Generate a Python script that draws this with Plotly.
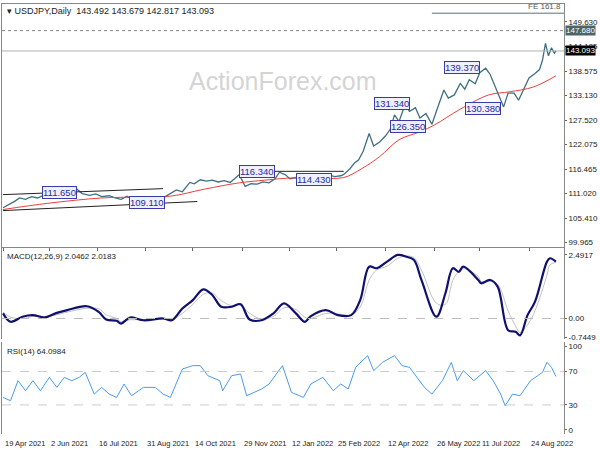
import plotly.graph_objects as go

# ---------------- data ----------------
price_bar = [0,4,8,11,15,19,23,27,31,35,38,42,46,49,53,58,62,66,71,75,79,83,87,91,96,100,104,108,112,116,120,125,128,132,136,140,144,148,152,156,158,160,162,166,170,174,178,182,185,189,192,196,200,205,210,214,218,222,226,228,232,235,238,241,245,248,252,256,259,262,265,269,272,276,279,283,287,291,295,298,302,306,309,312,316,319,323,326,329,332,335,338,342,345,349,352,356,359,361,363,365,367,369,370]
price_val = [107.8,108.5,109.3,110.0,109.7,110.3,110.0,110.6,111.5,111.3,111.7,111.9,111.5,112.1,111.0,110.6,110.9,110.3,110.5,110.0,109.7,110.4,109.6,110.0,109.3,109.8,109.5,110.2,111.0,111.8,111.4,113.5,113.2,114.1,113.8,114.0,113.6,113.9,113.5,114.6,115.2,114.0,112.6,113.2,113.1,113.6,113.4,114.3,115.8,115.2,114.3,114.6,113.8,114.4,114.9,114.4,115.2,114.8,115.0,115.3,116.5,117.8,118.6,120.5,124.5,121.7,122.6,124.0,125.4,128.7,127.2,131.0,129.5,130.3,128.0,129.0,126.6,130.5,134.3,132.5,133.2,135.8,134.5,136.6,135.7,138.2,139.2,137.8,135.5,133.0,130.5,133.6,133.6,132.0,135.0,137.0,138.0,138.9,141.0,144.8,142.0,143.8,142.6,143.1]

ma_bar = [0,30,66,90,112,135,158,175,192,210,228,240,252,265,279,289,305,325,339,355,370]
ma_val = [107.4,108.8,110.0,110.2,110.4,112.0,113.4,114.0,114.5,114.5,114.6,116.6,119.3,123.1,124.9,126.5,129.8,133.2,133.9,135.0,137.5]

macd_bar = [0,5,13,20,28,36,43,56,64,69,76,79,85,94,107,113,120,127,134,140,146,153,159,165,173,181,188,196,202,206,216,224,233,239,245,250,257,264,270,275,280,290,296,301,305,308,318,320,326,331,338,343,346,351,356,364,366,370]
macd_val = [0.20,-0.13,0.07,0.13,0.04,0.22,0.33,0.48,0.26,-0.04,-0.09,-0.20,0.04,-0.07,0.00,-0.07,0.39,0.72,1.14,0.92,0.46,0.46,0.56,-0.04,-0.07,0.20,0.59,0.20,-0.13,0.09,0.33,0.13,0.13,0.72,2.03,1.97,2.23,2.49,2.42,2.29,1.51,0.07,0.98,1.97,1.83,2.03,1.51,1.38,1.51,1.25,-0.46,-0.52,-0.66,0.13,0.66,2.23,2.36,2.23]
signal_val = [0.25,0.05,0.00,0.08,0.07,0.15,0.25,0.40,0.38,0.15,0.00,-0.12,-0.05,-0.05,-0.02,-0.04,0.20,0.55,0.95,1.00,0.70,0.50,0.52,0.20,-0.02,0.08,0.42,0.35,0.05,0.00,0.20,0.18,0.14,0.45,1.50,1.90,2.05,2.35,2.45,2.38,1.90,0.60,0.55,1.50,1.85,1.95,1.65,1.45,1.45,1.35,0.30,-0.30,-0.55,-0.25,0.30,1.70,2.10,2.20]

rsi_bar = [0,5,10,15,20,25,31,36,41,46,51,55,61,66,71,76,81,86,94,102,107,112,120,127,132,137,145,147,153,159,163,173,178,187,193,201,206,214,221,226,231,236,244,248,254,262,267,272,277,282,287,294,300,304,308,315,323,328,333,336,341,346,353,361,364,367,370]
rsi_val = [39,35,59,47,59,47,63,51,63,59,63,69,43,51,43,39,55,41,51,51,43,39,73,77,77,65,59,47,65,67,41,49,55,77,45,39,55,63,47,55,49,75,89,71,81,89,77,75,63,51,43,59,81,59,71,59,71,59,43,29,43,41,59,69,81,75,64]

date_bar = [0,31,63,95,127,160,192,223,256,289,319,352]
date_text = ["19 Apr 2021","2 Jun 2021","16 Jul 2021","31 Aug 2021","14 Oct 2021","29 Nov 2021",
             "12 Jan 2022","25 Feb 2022","12 Apr 2022","26 May 2022","11 Jul 2022","24 Aug 2022"]
price_ticks = [149.630,144.185,138.575,133.130,127.520,122.075,116.465,111.020,105.410,99.965]

lbl_text = ["111.650","109.110","116.340","114.430","131.340","126.350","139.370","130.380"]
lbl_bar = [38,96,170,208,260,271,307,321]
lbl_price = [111.2,109.0,115.9,114.1,131.2,126.0,139.3,130.1]

# ---------------- figure ----------------
F = "Liberation Sans"
fig = go.Figure()
fig.add_trace(go.Scatter(x=price_bar, y=price_val, mode="lines", line=dict(color="#3f7082", width=1.3), yaxis="y"))
fig.add_trace(go.Scatter(x=ma_bar, y=ma_val, mode="lines", line=dict(color="#e8413c", width=1, shape="spline"), yaxis="y"))
fig.add_trace(go.Scatter(x=macd_bar, y=signal_val, mode="lines", line=dict(color="#c0c0c0", width=1, shape="spline"), yaxis="y2"))
fig.add_trace(go.Scatter(x=macd_bar, y=macd_val, mode="lines", line=dict(color="#10106e", width=2.2, shape="spline"), yaxis="y2"))
fig.add_trace(go.Scatter(x=rsi_bar, y=rsi_val, mode="lines", line=dict(color="#4a9be8", width=1), yaxis="y3"))

xr = [-0.7, 375.4]
shapes = []
def hline(y, yref, dash, color, x0=xr[0], x1=xr[1], w=1):
    shapes.append(dict(type="line", xref="x", yref=yref, x0=x0, x1=x1, y0=y, y1=y, line=dict(color=color, width=w, dash=dash)))
hline(147.68, "y", "dot", "#888888")
hline(143.093, "y", "solid", "#b0b0b0")
hline(151.6, "y", "solid", "#5a7070", x0=287)
hline(0, "y2", "dash", "#bbbbbb")
hline(70, "y3", "dash", "#cccccc")
hline(30, "y3", "dash", "#cccccc")
shapes.append(dict(type="line", xref="x", yref="y", x0=0, x1=107, y0=110.75, y1=112.1, line=dict(color="#222", width=1)))
shapes.append(dict(type="line", xref="x", yref="y", x0=0, x1=130, y0=107.16, y1=109.2, line=dict(color="#222", width=1)))
hline(116.0, "y", "solid", "#222", x0=158, x1=228)

ann = []
for t, b, p in zip(lbl_text, lbl_bar, lbl_price):
    ann.append(dict(x=b, y=p, xref="x", yref="y", text=t, showarrow=False, font=dict(family=F, size=9.5, color="#2a2a9a"),
                    bgcolor="#eef0ff", bordercolor="#3a3aaa", borderwidth=1, borderpad=0))
for b, t in zip(date_bar, date_text):
    ann.append(dict(x=b, y=0, xref="x", yref="paper", yshift=-3, text=t, showarrow=False, xanchor="left", yanchor="top",
                    font=dict(family=F, size=7.5, color="#222")))
ann += [
    dict(x=0.005, y=1.0, xref="paper", yref="paper", text="▾ USDJPY,Daily  143.492 143.679 142.817 143.093", showarrow=False,
         xanchor="left", yanchor="top", font=dict(family=F, size=9, color="#222")),
    dict(x=0.5, y=136.3, xref="paper", yref="y", text="ActionForex.com", showarrow=False,
         font=dict(family=F, size=25, color="#d4d4d4")),
    dict(x=375, y=151.6, xref="x", yref="y", text="FE 161.8", showarrow=False, xanchor="right", yanchor="bottom",
         font=dict(family=F, size=8, color="#555")),
    dict(x=1.0, y=147.68, xref="paper", yref="y", xshift=1, text="147.680", showarrow=False, xanchor="left",
         font=dict(family=F, size=8, color="white"), bgcolor="#4e6466", borderpad=0),
    dict(x=1.0, y=143.093, xref="paper", yref="y", xshift=1, text="143.093", showarrow=False, xanchor="left",
         font=dict(family=F, size=8, color="white"), bgcolor="#000000", borderpad=0),
    dict(x=0.005, y=2.7, xref="paper", yref="y2", text="MACD(12,26,9) 2.0462 2.0183", showarrow=False,
         xanchor="left", yanchor="top", font=dict(family=F, size=8, color="#222")),
    dict(x=0.005, y=102, xref="paper", yref="y3", text="RSI(14) 64.0984", showarrow=False,
         xanchor="left", yanchor="top", font=dict(family=F, size=8, color="#222")),
]

axcommon = dict(side="right", showgrid=False, zeroline=False, showline=True, mirror=True, linecolor="#888",
                ticks="outside", ticklen=2, tickcolor="#666", tickfont=dict(family=F, size=8, color="#222"))
fig.update_layout(
    width=600, height=450, margin=dict(l=2, r=36, t=4, b=16),
    paper_bgcolor="white", plot_bgcolor="white", showlegend=False,
    xaxis=dict(range=xr, showgrid=False, zeroline=False, showline=True, mirror=True, linecolor="#888",
               tickvals=date_bar, ticktext=[""]*len(date_bar), ticks="outside", ticklen=3, tickcolor="#666"),
    yaxis=dict(domain=[0.436, 1], range=[99.07, 153.67], tickvals=price_ticks,
               ticktext=[f"{v:.3f}" for v in price_ticks], **axcommon),
    yaxis2=dict(domain=[0.22, 0.433], range=[-0.82, 2.77], tickvals=[2.4917, 0, -0.7449],
                ticktext=["2.4917", "0.00", "-0.7449"], **axcommon),
    yaxis3=dict(domain=[0, 0.213], range=[-4.8, 104.8], tickvals=[100, 70, 30, 0], **axcommon),
    shapes=shapes, annotations=ann,
)
html = fig.to_html(full_html=True, config={"displayModeBar": False})
html = html.replace("<head>", "<head><style>html,body{margin:0;padding:0;overflow:hidden}</style>", 1)
with open("out.html", "w", encoding="utf-8") as f:
    f.write(html)
